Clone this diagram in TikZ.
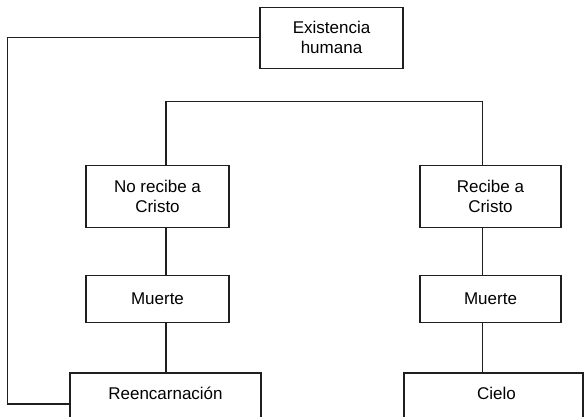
\documentclass[tikz,border=0pt]{standalone}
\usepackage{fontspec}
\setmainfont{Liberation Sans}
\begin{document}
\begin{tikzpicture}[x=1pt,y=-1pt,
  every node/.style={font=\fontsize{17}{20}\selectfont, inner sep=0pt, align=center},
  box/.style={draw=black!88, line width=1.3pt, rectangle},
  conn/.style={draw=black!88, line width=1.3pt},
  lbl/.style={}]
\useasboundingbox (0,0) rectangle (587,416);
\clip (0,0) rectangle (587,416);
% positions used by the connectors
\coordinate (L) at (166,0);
\coordinate (R) at (482.3,0);
\coordinate (bar) at (0,101.7);
\coordinate (loopx) at (7.5,0);
\coordinate (bot) at (0,404);
% nodes
\node[box, minimum width=143, minimum height=61] (ex) at (331.5,37.7) {Existencia\\humana};
\node[box, minimum width=143, minimum height=62] (nr) at (157.5,196.7) {No recibe a\\Cristo};
\node[box, minimum width=141, minimum height=62] (rc) at (490.5,196.7) {Recibe a\\Cristo};
\node[box, minimum width=143, minimum height=46.5] (m1) at (157.5,299) {Muerte};
\node[box, minimum width=141, minimum height=46.5] (m2) at (490.5,299) {Muerte};
\node[box, minimum width=191, minimum height=80, anchor=north] (re) at (165.5,372.3) {};
\node[lbl, anchor=base] (retxt) at (165.5,399) {Reencarnación};
\node[box, minimum width=179, minimum height=80, anchor=north] (ci) at (493.5,372.3) {};
\node[lbl, anchor=base] (citxt) at (496.5,399) {Cielo};
% connectors
\draw[conn] (nr.north -| L) -- (bar -| L) -- (bar -| R) -- (rc.north -| R);
\draw[conn] (nr.south -| L) -- (m1.north -| L);
\draw[conn] (rc.south -| R) -- (m2.north -| R);
\draw[conn] (m1.south -| L) -- (re.north -| L);
\draw[conn] (m2.south -| R) -- (ci.north -| R);
\draw[conn] (ex.west) -- (ex.west -| loopx) -- (loopx |- bot) -- (re.west |- bot);
\end{tikzpicture}
\end{document}
